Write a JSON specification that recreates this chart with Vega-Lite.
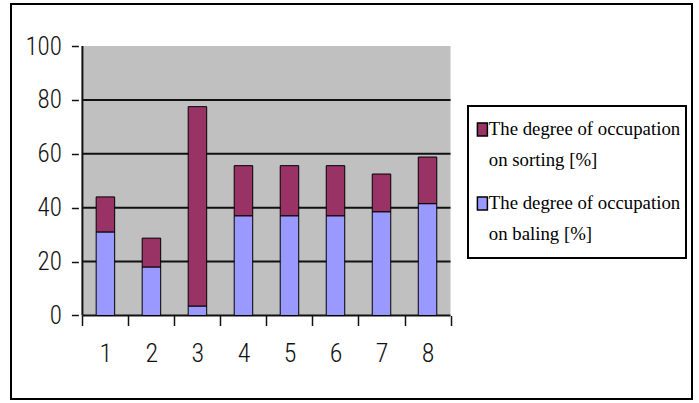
{
  "$schema": "https://vega.github.io/schema/vega-lite/v6.json",
  "width": 681,
  "height": 395,
  "autosize": {"type": "none"},
  "padding": {"left": 11, "top": 4, "right": 7, "bottom": 4},
  "background": "white",
  "config": {
    "view": {"stroke": "black", "strokeWidth": 2, "fill": "white"},
    "style": {"guide-label": {"lineHeight": 31}},
    "legend": {"strokeWidth": 2}
  },
  "datasets": {
    "bars": [
      {"n": 1, "series": "The degree of occupation on baling [%]", "value": 31},
      {"n": 1, "series": "The degree of occupation on sorting [%]", "value": 13},
      {"n": 2, "series": "The degree of occupation on baling [%]", "value": 18},
      {"n": 2, "series": "The degree of occupation on sorting [%]", "value": 10.7},
      {"n": 3, "series": "The degree of occupation on baling [%]", "value": 3.5},
      {"n": 3, "series": "The degree of occupation on sorting [%]", "value": 74},
      {"n": 4, "series": "The degree of occupation on baling [%]", "value": 37},
      {"n": 4, "series": "The degree of occupation on sorting [%]", "value": 18.6},
      {"n": 5, "series": "The degree of occupation on baling [%]", "value": 37},
      {"n": 5, "series": "The degree of occupation on sorting [%]", "value": 18.6},
      {"n": 6, "series": "The degree of occupation on baling [%]", "value": 37},
      {"n": 6, "series": "The degree of occupation on sorting [%]", "value": 18.6},
      {"n": 7, "series": "The degree of occupation on baling [%]", "value": 38.5},
      {"n": 7, "series": "The degree of occupation on sorting [%]", "value": 14},
      {"n": 8, "series": "The degree of occupation on baling [%]", "value": 41.5},
      {"n": 8, "series": "The degree of occupation on sorting [%]", "value": 17.3}
    ],
    "grid": [{"g": 0}, {"g": 20}, {"g": 40}, {"g": 60}, {"g": 80}]
  },
  "layer": [
    {
      "data": {"values": [{}]},
      "mark": {"type": "rect", "color": "#C0C0C0"},
      "encoding": {
        "x": {"datum": 0.5, "type": "quantitative", "scale": {"domain": [-0.943, 13.639], "nice": false, "zero": false}},
        "x2": {"datum": 8.5},
        "y": {"datum": 0, "type": "quantitative", "scale": {"domain": [-31.0, 115.6], "nice": false, "zero": false}},
        "y2": {"datum": 100}
      }
    },
    {
      "data": {"name": "grid"},
      "mark": {"type": "rule", "color": "#111111", "strokeWidth": 2},
      "encoding": {
        "x": {"datum": 0.5, "type": "quantitative"},
        "x2": {"datum": 8.5},
        "y": {"field": "g", "type": "quantitative"}
      }
    },
    {
      "data": {"values": [{}]},
      "mark": {"type": "rule", "color": "#111111", "strokeWidth": 2},
      "encoding": {
        "x": {"datum": 0.5, "type": "quantitative"},
        "y": {"datum": 0, "type": "quantitative"},
        "y2": {"datum": 100}
      }
    },
    {
      "data": {"name": "bars"},
      "mark": {"type": "bar", "size": 18.5, "stroke": "black", "strokeWidth": 1},
      "encoding": {
        "x": {
          "field": "n",
          "type": "quantitative",
          "axis": {
            "orient": "bottom",
            "offset": -83.5,
            "title": null,
            "domain": false,
            "grid": false,
            "values": [0.5, 1, 1.5, 2, 2.5, 3, 3.5, 4, 4.5, 5, 5.5, 6, 6.5, 7, 7.5, 8, 8.5],
            "labelExpr": "datum.value % 1 == 0 ? datum.label : ''",
            "labelOverlap": false,
            "labelFlush": false,
            "tickSize": 10,
            "tickWidth": 1.5,
            "tickColor": "#111111",
            "tickOpacity": {"condition": {"test": "datum.value % 1 == 0", "value": 0}, "value": 1},
            "labelPadding": 15,
            "labelFont": "Roboto Condensed",
            "labelFontSize": 26,
            "labelFontWeight": 300,
            "labelColor": "#111111"
          }
        },
        "y": {
          "field": "value",
          "type": "quantitative",
          "stack": "zero",
          "axis": {
            "orient": "left",
            "offset": -67.4,
            "title": null,
            "domain": false,
            "grid": false,
            "values": [0, 20, 40, 60, 80, 100],
            "tickSize": 7,
            "tickWidth": 1.5,
            "tickColor": "#111111",
            "labelPadding": 10,
            "labelFont": "Roboto Condensed",
            "labelFontSize": 25,
            "labelFontWeight": 300,
            "labelColor": "#111111"
          }
        },
        "color": {
          "field": "series",
          "type": "nominal",
          "scale": {
            "domain": ["The degree of occupation on sorting [%]", "The degree of occupation on baling [%]"],
            "range": ["#993366", "#9999FF"]
          },
          "legend": {
            "title": " ",
            "titleFontSize": 1,
            "titlePadding": -7,
            "orient": "none",
            "legendX": 457,
            "legendY": 102,
            "padding": 5,
            "strokeColor": "black",
            "fillColor": "white",
            "symbolType": "M-1,1.7H1V4.3H-1Z M0,12.2",
            "symbolSize": 100,
            "symbolStrokeColor": "black",
            "symbolStrokeWidth": 1.5,
            "symbolOpacity": 1,
            "labelExpr": "[substring(datum.label, 0, 24), substring(datum.label, 25)]",
            "labelFont": "Liberation Serif",
            "labelFontSize": 18.8,
            "labelColor": "black",
            "labelBaseline": "line-top",
            "labelOffset": -3,
            "labelLimit": 300,
            "rowPadding": -4
          }
        },
        "order": {"field": "series", "sort": "ascending"}
      }
    }
  ]
}
